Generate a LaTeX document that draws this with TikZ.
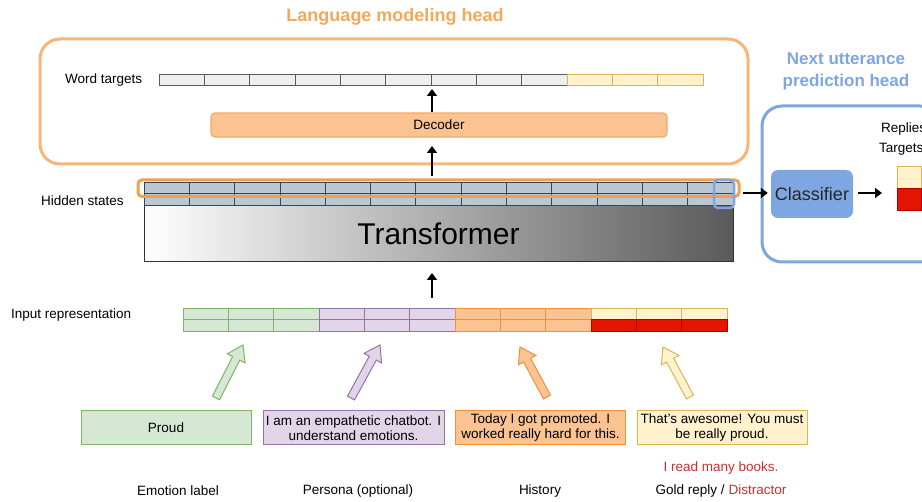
\documentclass[tikz,border=0pt]{standalone}
\usepackage{fontspec}
\setmainfont{Liberation Sans}
\usetikzlibrary{arrows.meta,calc}
\definecolor{lmtitle}{RGB}{245,168,90}
\definecolor{lmorange}{RGB}{249,180,120}
\definecolor{hlorange}{RGB}{242,160,75}
\definecolor{decf}{RGB}{250,195,145}
\definecolor{decb}{RGB}{245,170,105}
\definecolor{nupblue}{RGB}{126,166,224}
\definecolor{hidf}{RGB}{187,200,212}
\definecolor{hidb}{RGB}{60,70,80}
\definecolor{wtg}{RGB}{238,238,238}
\definecolor{wtgb}{RGB}{90,90,90}
\definecolor{yelf}{RGB}{255,242,204}
\definecolor{yelb}{RGB}{214,182,86}
\definecolor{redf}{RGB}{229,20,0}
\definecolor{redb}{RGB}{178,0,0}
\definecolor{gfill}{RGB}{213,232,212}
\definecolor{gdraw}{RGB}{130,179,102}
\definecolor{pfill}{RGB}{225,213,231}
\definecolor{pdraw}{RGB}{150,115,166}
\definecolor{ofill}{RGB}{250,195,145}
\definecolor{odraw}{RGB}{240,145,55}
\definecolor{tgray}{RGB}{90,90,90}
\definecolor{distred}{RGB}{205,45,50}
\newcommand{\fatarrow}[4]{%
  \coordinate (fa-t) at #3; \coordinate (fa-h) at #4;
  \coordinate (fa-n) at ($(fa-h)!15pt!(fa-t)$);
  \filldraw[fill=#1, draw=#2, line width=1pt, line join=miter]
    ($(fa-t)!4pt!90:(fa-h)$) -- ($(fa-n)!4pt!90:(fa-h)$) -- ($(fa-n)!10pt!90:(fa-h)$) -- (fa-h)
    -- ($(fa-n)!10pt!-90:(fa-h)$) -- ($(fa-n)!4pt!-90:(fa-h)$) -- ($(fa-t)!4pt!-90:(fa-h)$) -- cycle;}
\begin{document}
\begin{tikzpicture}[x=1pt,y=-1pt, font=\fontsize{13.5}{15}\selectfont,
  arr/.style={line width=2.6pt, -{Triangle[length=7pt,width=10pt]}},
  box/.style={inner sep=0pt, align=center, line width=1pt},
  lbl/.style={inner sep=0pt}]
\useasboundingbox (0,0) rectangle (922,502);

% ---------- Language modeling head ----------
\node[font=\bfseries\fontsize{18}{20}\selectfont, text=lmtitle] (lmt) at (395,17) {Language modeling head};
\draw[lmorange, line width=3pt, rounded corners=20pt] (40,39) rectangle (748,164);
\node[lbl, anchor=west] (wtl) at (65,80.5) {Word targets};
\foreach \i in {0,...,8}
  \draw[fill=wtg, draw=wtgb, line width=0.8pt] ({159+\i*45.33},74) rectangle ++(45.33,11);
\foreach \i in {9,10,11}
  \draw[fill=yelf, draw=yelb, line width=0.8pt] ({159+\i*45.33},74) rectangle ++(45.33,11);
\coordinate (wtb) at (432,89);
\node[draw=decb, fill=decf, rounded corners=4pt, minimum width=456pt, minimum height=24pt, line width=1.2pt, inner sep=0pt] (dec) at (439,125) {Decoder};
\draw[arr] (dec.north -| wtb) -- (wtb);
\coordinate (decb) at (432,146);
\coordinate (hst) at (432,176);
\draw[arr] (hst) -- (decb);

% ---------- Hidden states & Transformer ----------
\node[lbl, anchor=west] (hsl) at (41,201) {Hidden states};
\node[left color=white, right color=tgray, draw=black!80, line width=1pt, minimum width=589pt, minimum height=57pt, inner sep=0pt, font=\fontsize{30}{32}\selectfont] (tr) at (438.5,233.5) {Transformer};
\foreach \i in {0,...,12} {
  \draw[fill=hidf, draw=hidb, line width=0.8pt] ({144+\i*45.31},182) rectangle ++(45.31,11.5);
  \draw[fill=hidf, draw=hidb, line width=0.8pt] ({144+\i*45.31},193.5) rectangle ++(45.31,11.5);
}
\draw[hlorange, line width=3pt, rounded corners=4pt] (138,180) rectangle (739,196.5);
\draw[nupblue, line width=2.5pt, rounded corners=4pt] (714,180) rectangle (734,208);

% ---------- Next utterance prediction head ----------
\node[font=\bfseries\fontsize{17}{22}\selectfont, text=nupblue, align=center] (nut) at (846,71) {Next utterance\\prediction head};
\draw[nupblue, line width=3pt, rounded corners=20pt] (762,106) rectangle (940,262);
\node[fill=nupblue, rounded corners=7pt, minimum width=82pt, minimum height=48pt, inner sep=0pt, font=\fontsize{18}{20}\selectfont, text=black!85] (cls) at (812,194) {Classifier};
\coordinate (hsr) at (743,193);
\draw[arr, shorten >=3pt] (hsr) -- (cls.west |- hsr);
\coordinate (tgl) at (882,193);
\draw[arr, shorten <=5pt] (cls.east |- tgl) -- (tgl);
\node[lbl, anchor=west] (rep) at (881,129) {Replies};
\node[lbl, anchor=west] (tgt) at (879,149.5) {Targets};
\draw[fill=yelf, draw=yelb, line width=0.8pt] (897,166) rectangle (921,188);
\draw[fill=redf, draw=redb, line width=0.8pt] (897,188) rectangle (921,210);

% ---------- Input representation ----------
\coordinate (trb) at (432,273);
\coordinate (inp) at (432,298);
\draw[arr] (inp) -- (trb);
\node[lbl, anchor=west] (irl) at (11,315) {Input representation};
\foreach \i in {0,1,2} {
  \draw[fill=gfill, draw=gdraw, line width=0.8pt] ({183+\i*45.33},308) rectangle ++(45.33,11.5);
  \draw[fill=gfill, draw=gdraw, line width=0.8pt] ({183+\i*45.33},319.5) rectangle ++(45.33,11.5);
}
\foreach \i in {3,4,5} {
  \draw[fill=pfill, draw=pdraw, line width=0.8pt] ({183+\i*45.33},308) rectangle ++(45.33,11.5);
  \draw[fill=pfill, draw=pdraw, line width=0.8pt] ({183+\i*45.33},319.5) rectangle ++(45.33,11.5);
}
\foreach \i in {6,7,8} {
  \draw[fill=ofill, draw=odraw, line width=0.8pt] ({183+\i*45.33},308) rectangle ++(45.33,11.5);
  \draw[fill=ofill, draw=odraw, line width=0.8pt] ({183+\i*45.33},319.5) rectangle ++(45.33,11.5);
}
\foreach \i in {9,10,11} {
  \draw[fill=yelf, draw=yelb, line width=0.8pt] ({183+\i*45.33},308) rectangle ++(45.33,11.5);
  \draw[fill=redf, draw=redb, line width=0.8pt] ({183+\i*45.33},319.5) rectangle ++(45.33,11.5);
}

% ---------- fat arrows ----------
\fatarrow{gfill}{gdraw}{(216,398)}{(243,345)}
\fatarrow{pfill}{pdraw}{(351,398)}{(380,345)}
\fatarrow{ofill}{odraw}{(547,397)}{(520,347)}
\fatarrow{yelf}{yelb}{(690,397)}{(663,347)}

% ---------- bottom boxes ----------
\node[box, fill=gfill, draw=gdraw, minimum width=170pt, minimum height=34pt] (proud) at (166,428) {Proud};
\node[box, fill=pfill, draw=pdraw, minimum width=181pt, minimum height=34pt] (pers) at (353.5,428) {I am an empathetic chatbot. I\\understand emotions.};
\node[box, fill=ofill, draw=odraw, minimum width=170pt, minimum height=34pt] (hist) at (540.5,428) {Today I got promoted. I\\worked really hard for this.};
\node[box, fill=yelf, draw=yelb, minimum width=170pt, minimum height=34pt] (gold) at (722,428) {That's awesome! You must\\be really proud.};
\node[lbl, text=distred] (dist) at (721,468) {I read many books.};
\node[lbl] (el) at (178,491) {Emotion label};
\node[lbl] (pl) at (358,491) {Persona (optional)};
\node[lbl] (hl) at (540,491) {History};
\node[lbl] (gl) at (721,491) {Gold reply / \textcolor{distred}{Distractor}};
\end{tikzpicture}
\end{document}
